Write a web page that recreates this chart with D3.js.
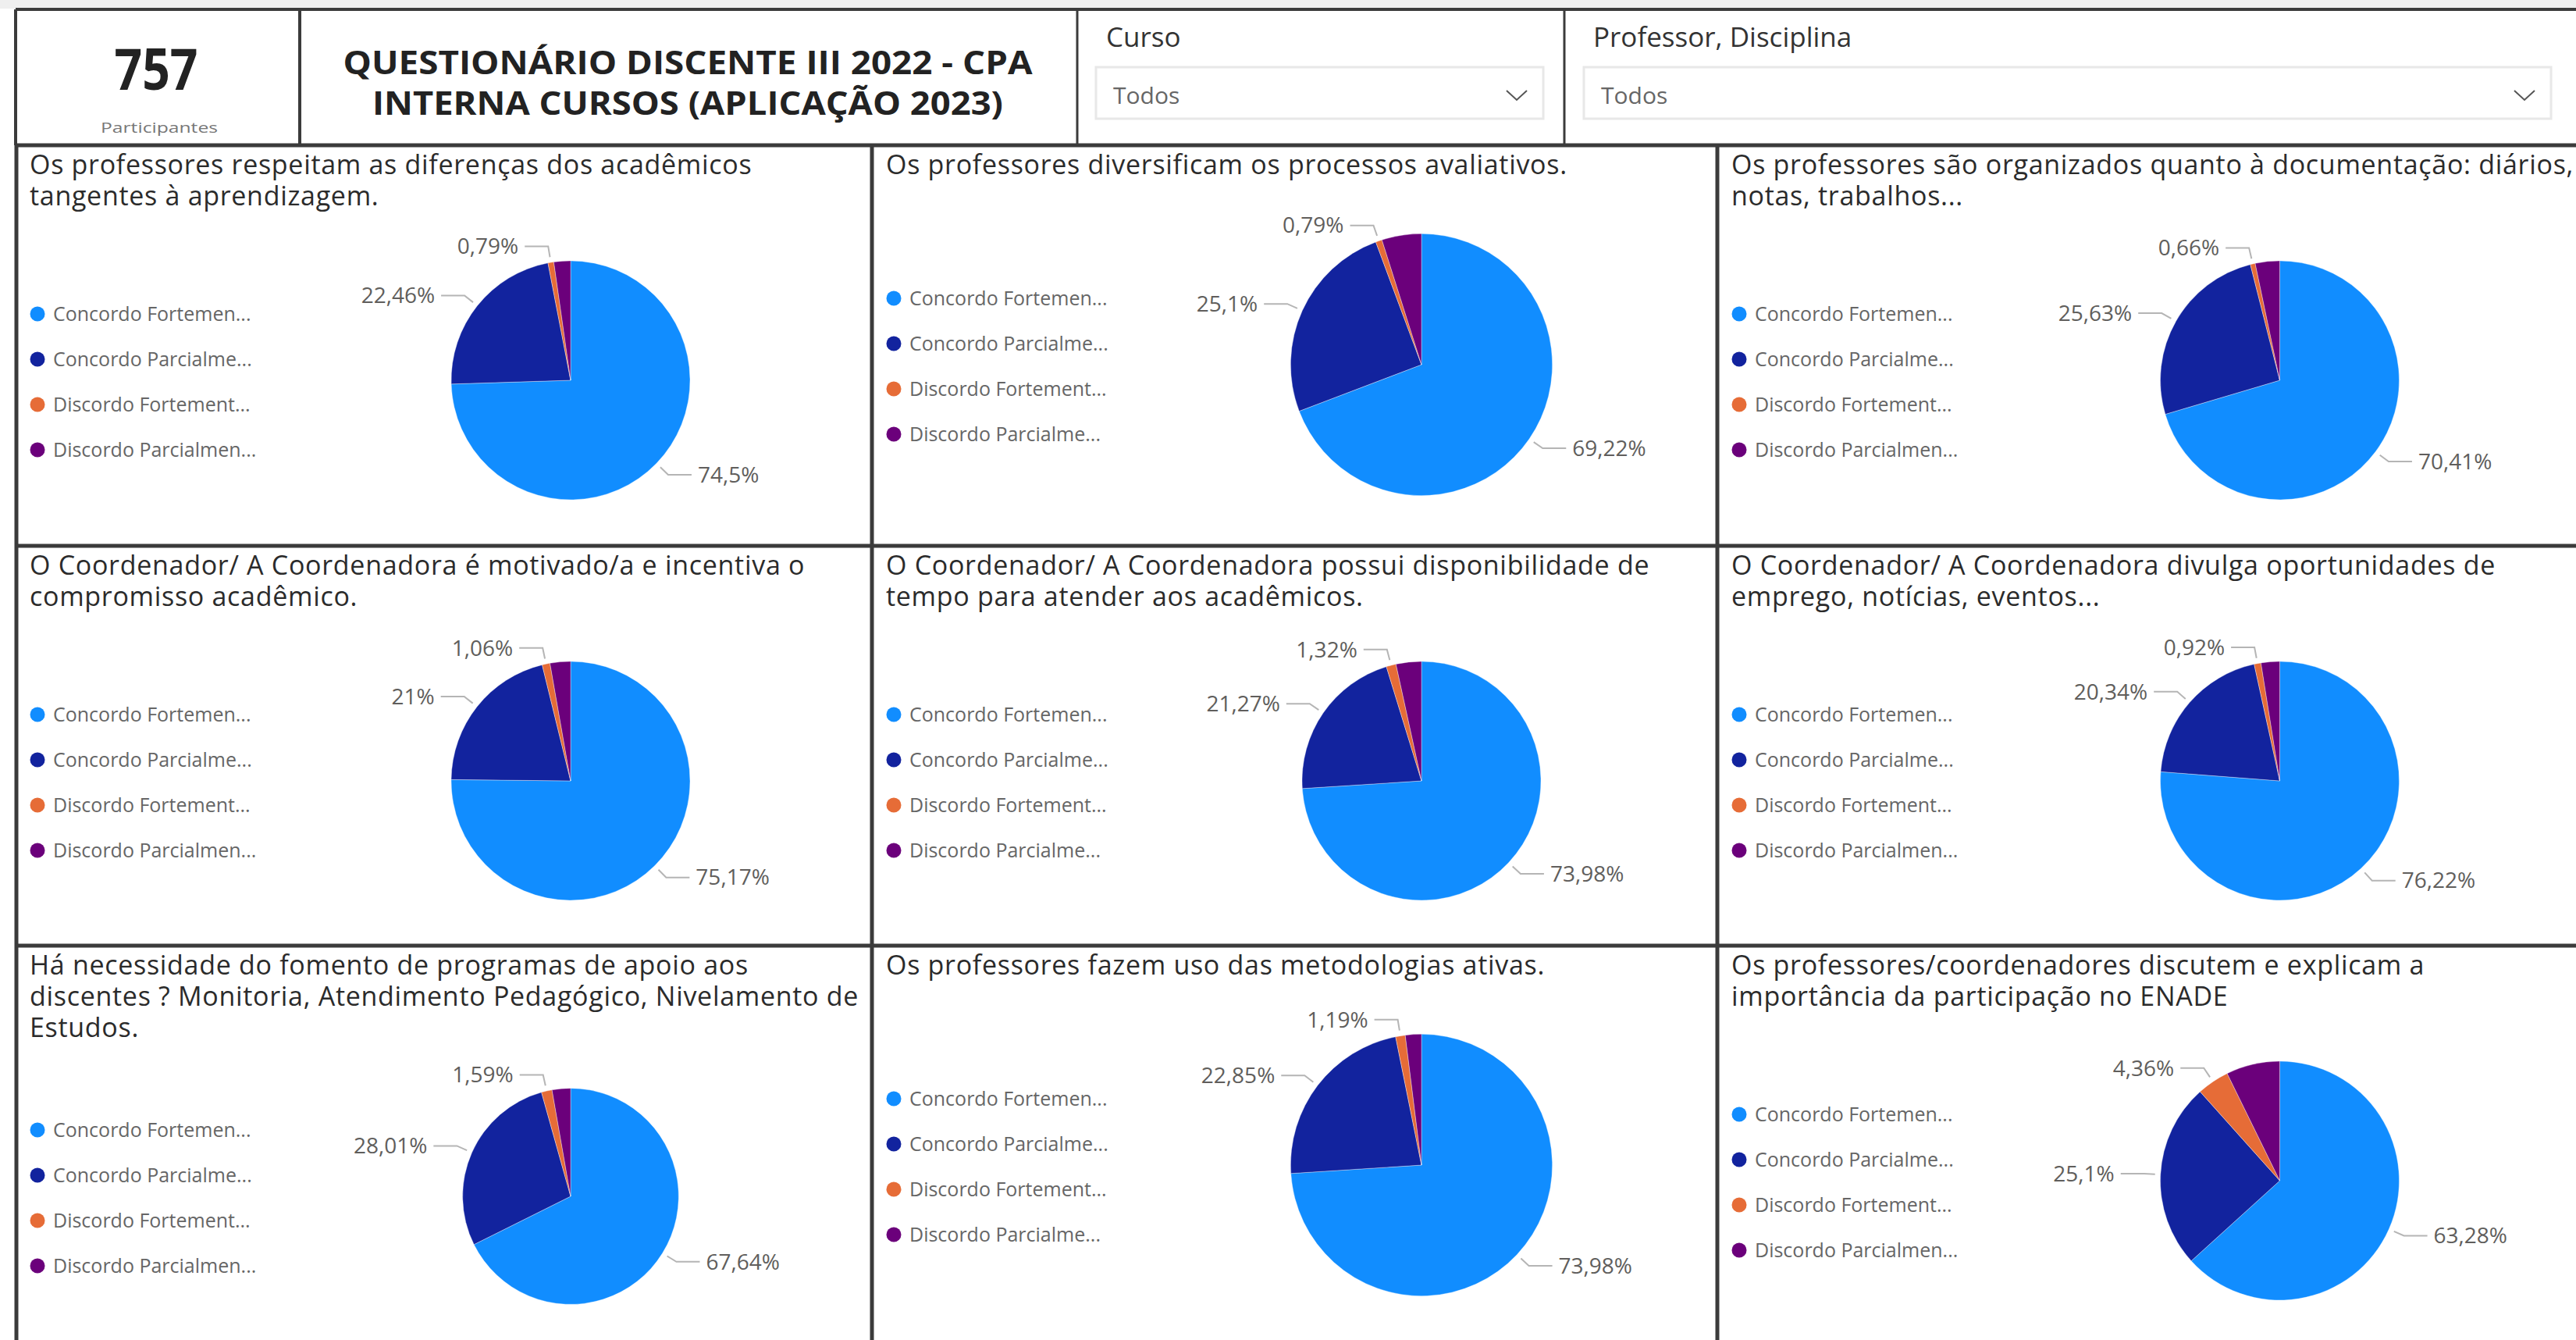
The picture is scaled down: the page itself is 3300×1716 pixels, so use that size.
<!DOCTYPE html>
<html><head><meta charset="utf-8">
<script src="https://cdn.jsdelivr.net/npm/d3@7"></script>
<style>
html,body{margin:0;padding:0;background:#fff;overflow:hidden;}
svg{display:block;}
text{font-family:'Open Sans',sans-serif;}
</style></head><body>
<svg id="c" width="3300" height="1716"></svg>
<script>
// ---------- data ----------
const categories = ["Concordo Fortemente","Concordo Parcialmente","Discordo Fortemente","Discordo Parcialmente"];
const categoryColors = ["#118DFF","#12239E","#E66C37","#6B007B"];
const legendLabelsA = ["Concordo Fortemen...","Concordo Parcialme...","Discordo Fortement...","Discordo Parcialmen..."];
const legendLabelsB = ["Concordo Fortemen...","Concordo Parcialme...","Discordo Fortement...","Discordo Parcialme..."];
const questionTitles = [
  ["Os professores respeitam as diferenças dos acadêmicos","tangentes à aprendizagem."],
  ["Os professores diversificam os processos avaliativos."],
  ["Os professores são organizados quanto à documentação: diários,","notas, trabalhos..."],
  ["O Coordenador/ A Coordenadora é motivado/a e incentiva o","compromisso acadêmico."],
  ["O Coordenador/ A Coordenadora possui disponibilidade de","tempo para atender aos acadêmicos."],
  ["O Coordenador/ A Coordenadora divulga oportunidades de","emprego, notícias, eventos..."],
  ["Há necessidade do fomento de programas de apoio aos","discentes ? Monitoria, Atendimento Pedagógico, Nivelamento de","Estudos."],
  ["Os professores fazem uso das metodologias ativas."],
  ["Os professores/coordenadores discutem e explicam a","importância da participação no ENADE"]
];
const concordoFortemente   = [74.5, 69.22, 70.41, 75.17, 73.98, 76.22, 67.64, 73.98, 63.28];
const concordoParcialmente = [22.46, 25.1, 25.63, 21, 21.27, 20.34, 28.01, 22.85, 25.1];
const discordoFortemente   = [0.79, 0.79, 0.66, 1.06, 1.32, 0.92, 1.59, 1.19, 4.36];
const discordoParcialmente = [2.25, 4.89, 3.30, 2.77, 3.43, 2.52, 2.76, 1.98, 7.26];
const labelledSlices = [0,1,2];
const participantes = "757";
const participantesLabel = "Participantes";
const reportTitle = ["QUESTIONÁRIO DISCENTE III 2022 - CPA","INTERNA CURSOS (APLICAÇÃO 2023)"];
const slicers = [{title:"Curso", value:"Todos"},{title:"Professor, Disciplina", value:"Todos"}];

// ---------- layout ----------
const svg = d3.select("#c");
const W = 3300, H = 1716;
const colX = [23, 1120, 2203], colW = [1091, 1077, 1110];
const rowY = [189, 702, 1214], panelH = 507;
const legendW = 325;
const fmt = v => d3.format(".2~f")(v).replace(".", ",") + "%";

svg.append("rect").attr("x",0).attr("y",0).attr("width",W).attr("height",11).attr("fill","#efefef");

// ---------- header ----------
const hdr = svg.append("g");
hdr.append("text").attr("x",200).attr("y",115).attr("text-anchor","middle")
  .attr("font-family","Roboto").attr("font-weight",700).attr("font-size",74)
  .attr("textLength",107).attr("lengthAdjust","spacingAndGlyphs").attr("fill","#222").text(participantes);
hdr.append("text").attr("x",204).attr("y",170).attr("text-anchor","middle")
  .attr("font-size",18).attr("fill","#777").attr("textLength",150).attr("lengthAdjust","spacingAndGlyphs").text(participantesLabel);
const tl = [883, 808];
reportTitle.forEach((t,i)=>{
  hdr.append("text").attr("text-anchor","middle")
    .attr("font-family","'Liberation Sans', Arial, sans-serif").attr("font-weight",700).attr("font-size",42).attr("fill","#222")
    .attr("x",881).attr("y",95+52*i)
    .attr("textLength",tl[i]).attr("lengthAdjust","spacingAndGlyphs").text(t);
});
const slX = [[1380,1417,1404,1977],[2004,2041,2029,3268]];
slicers.forEach((s,i)=>{
  const [bx, tx, dx0, dx1] = slX[i];
  hdr.append("text").attr("x",tx).attr("y",60).attr("font-size",35).attr("fill","#333").text(s.title);
  hdr.append("rect").attr("x",dx0).attr("y",86).attr("width",dx1-dx0).attr("height",66)
    .attr("fill","#fff").attr("stroke","#e8e8e8").attr("stroke-width",3);
  hdr.append("text").attr("x",dx0+22).attr("y",133).attr("font-size",30).attr("fill","#666").text(s.value);
  const cx = dx1-34;
  hdr.append("path").attr("d",`M${cx-13},${116}L${cx},${128}L${cx+13},${116}`)
    .attr("fill","none").attr("stroke","#555").attr("stroke-width",2);
});
// header borders
const lineCol = "#3b3b3b";
hdr.append("line").attr("x1",20).attr("x2",W).attr("y1",12).attr("y2",12).attr("stroke",lineCol).attr("stroke-width",4);
[[20,4],[384,4],[1380,3],[2004,3]].forEach(([x,w])=>{
  hdr.append("line").attr("x1",x).attr("x2",x).attr("y1",12).attr("y2",186).attr("stroke",lineCol).attr("stroke-width",w);
});

// ---------- panels ----------
const arcGen = d3.arc().innerRadius(0);
const pieGen = d3.pie().sort(null).value(d=>d.value).startAngle(0).endAngle(2*Math.PI);
const seriesByCat = [concordoFortemente,concordoParcialmente,discordoFortemente,discordoParcialmente];

questionTitles.forEach((lines, qi)=>{
  const col = qi % 3, row = Math.floor(qi/3);
  const px = colX[col], py = rowY[row], pw = colW[col];
  const g = svg.append("g").attr("transform",`translate(${px},${py})`);
  // title
  lines.forEach((ln,li)=>{
    g.append("text").attr("x",15).attr("y",34+40*li).attr("font-size",34).attr("letter-spacing",0.7)
      .attr("fill","#2b2b2b").text(ln);
  });
  const titleH = 9 + 40*lines.length;
  const plotH = panelH - titleH;
  const cy = titleH + plotH/2;
  const cx = legendW + (pw-legendW)/2;
  const r = 0.366*plotH;
  const data = categories.map((c,ci)=>({cat:c, i:ci, value:seriesByCat[ci][qi]}));
  const arcs = pieGen(data);
  const pg = g.append("g").attr("transform",`translate(${cx},${cy})`);
  pg.selectAll("path.slice").data(arcs).join("path").attr("class","slice")
    .attr("d",d=>arcGen.outerRadius(r)(d)).attr("fill",d=>categoryColors[d.data.i])
    .attr("stroke","#ffffff").attr("stroke-opacity",0.35).attr("stroke-width",1);
  arcs.filter(a=>labelledSlices.includes(a.data.i)).forEach(a=>{
    const m = (a.startAngle+a.endAngle)/2;
    const p0 = [(r+7)*Math.sin(m), -(r+7)*Math.cos(m)];
    const p1 = [(r+21)*Math.sin(m), -(r+21)*Math.cos(m)];
    const side = Math.sin(m) >= 0 ? 1 : -1;
    const p2 = [p1[0]+side*30, p1[1]];
    pg.append("path").attr("d",`M${p0}L${p1}L${p2}`).attr("fill","none").attr("stroke","#b5b5b5").attr("stroke-width",2);
    pg.append("text").attr("x",p2[0]+side*8).attr("y",p1[1]).attr("dy","0.35em")
      .attr("text-anchor",side>0?"start":"end").attr("font-size",28).attr("fill","#605E5C").text(fmt(a.data.value));
  });
  // legend
  const labels = col===1 ? legendLabelsB : legendLabelsA;
  const ly0 = cy + 2 - 1.5*58;
  labels.forEach((lb,li)=>{
    g.append("circle").attr("cx",25).attr("cy",ly0+58*li).attr("r",9.5).attr("fill",categoryColors[li]);
    g.append("text").attr("x",45).attr("y",ly0+58*li).attr("dy","0.35em").attr("font-size",25).attr("fill","#666").text(lb);
  });
});

// panel grid lines
const grid = svg.append("g");
[21,1117,2200].forEach(x=>{
  grid.append("line").attr("x1",x).attr("x2",x).attr("y1",184).attr("y2",H).attr("stroke",lineCol).attr("stroke-width",5);
});
[186,699,1211].forEach(y=>{
  grid.append("line").attr("x1",19).attr("x2",W).attr("y1",y).attr("y2",y).attr("stroke",lineCol).attr("stroke-width",5);
});
</script>
</body></html>
